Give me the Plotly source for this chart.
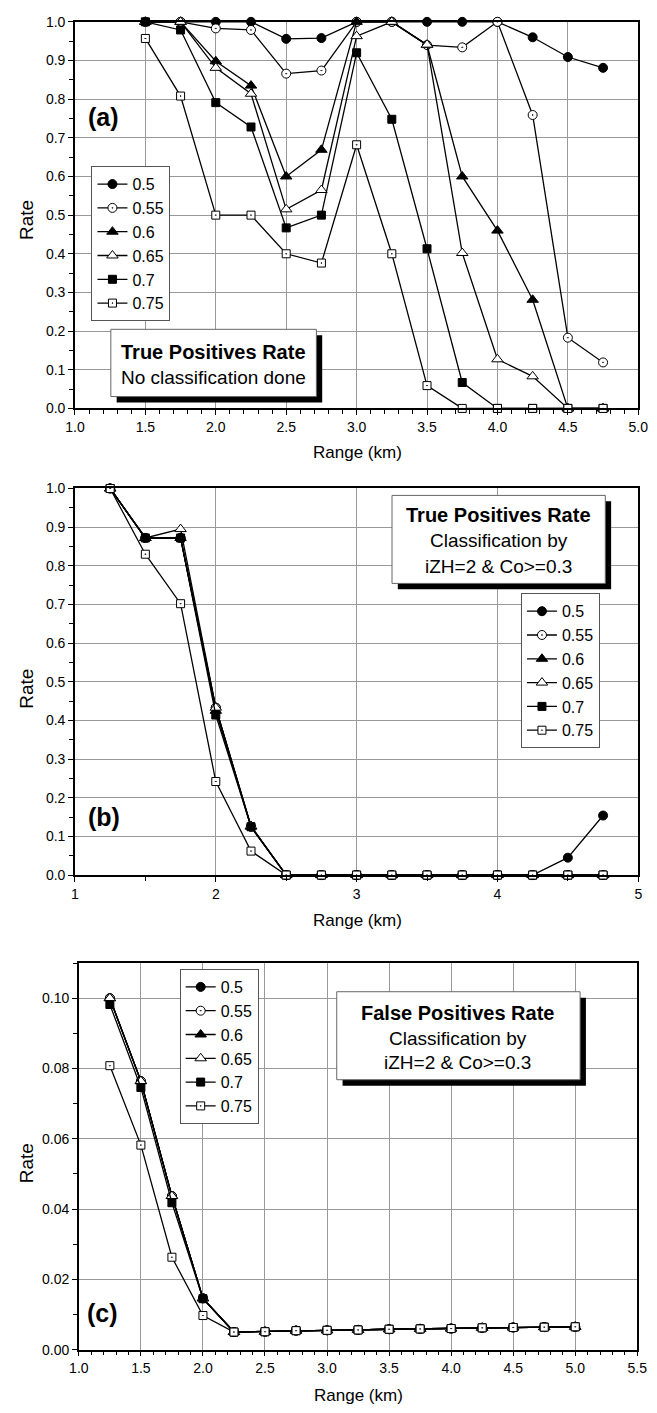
import plotly.graph_objects as go

# ---------------- data ----------------
thresholds = ["0.5", "0.55", "0.6", "0.65", "0.7", "0.75"]

# (a) True positives rate, no classification
range_a = [1.5, 1.75, 2.0, 2.25, 2.5, 2.75, 3.0, 3.25, 3.5, 3.75, 4.0, 4.25, 4.5, 4.75]
tpr_a_050 = [1.0, 1.0, 1.0, 1.0, 0.956, 0.958, 1.0, 1.0, 1.0, 1.0, 1.0, 0.960, 0.909, 0.881]
tpr_a_055 = [1.0, 1.0, 0.983, 0.979, 0.866, 0.874, 1.0, 1.0, 0.940, 0.934, 1.0, 0.759, 0.183, 0.119]
tpr_a_060 = [1.0, 1.0, 0.898, 0.835, 0.600, 0.669, 1.0, 1.0, 0.940, 0.600, 0.460, 0.281, 0.0, 0.0]
tpr_a_065 = [1.0, 1.0, 0.881, 0.814, 0.515, 0.565, 0.963, 1.0, 0.941, 0.402, 0.127, 0.083, 0.0, 0.0]
tpr_a_070 = [1.0, 0.979, 0.791, 0.728, 0.467, 0.500, 0.920, 0.748, 0.413, 0.067, 0.0, 0.0, 0.0, 0.0]
tpr_a_075 = [0.957, 0.808, 0.500, 0.500, 0.400, 0.376, 0.682, 0.400, 0.059, 0.0, 0.0, 0.0, 0.0, 0.0]

# (b) True positives rate, classification by iZH=2 & Co>=0.3
range_b = [1.25, 1.5, 1.75, 2.0, 2.25, 2.5, 2.75, 3.0, 3.25, 3.5, 3.75, 4.0, 4.25, 4.5, 4.75]
tpr_b_050 = [1.0, 0.872, 0.872, 0.433, 0.125, 0, 0, 0, 0, 0, 0, 0, 0, 0.045, 0.154]
tpr_b_055 = [1.0, 0.872, 0.872, 0.433, 0.125, 0, 0, 0, 0, 0, 0, 0, 0, 0, 0]
tpr_b_060 = [1.0, 0.872, 0.872, 0.425, 0.125, 0, 0, 0, 0, 0, 0, 0, 0, 0, 0]
tpr_b_065 = [1.0, 0.872, 0.895, 0.433, 0.127, 0, 0, 0, 0, 0, 0, 0, 0, 0, 0]
tpr_b_070 = [1.0, 0.872, 0.872, 0.414, 0.125, 0, 0, 0, 0, 0, 0, 0, 0, 0, 0]
tpr_b_075 = [1.0, 0.830, 0.702, 0.242, 0.062, 0, 0, 0, 0, 0, 0, 0, 0, 0, 0]

# (c) False positives rate, classification by iZH=2 & Co>=0.3
range_c = [1.25, 1.5, 1.75, 2.0, 2.25, 2.5, 2.75, 3.0, 3.25, 3.5, 3.75, 4.0, 4.25, 4.5, 4.75, 5.0]
fpr_c_050 = [0.1000, 0.0764, 0.0437, 0.0146, 0.0050, 0.0051, 0.0054, 0.0055, 0.0056, 0.0058, 0.0059, 0.0060, 0.0062, 0.0063, 0.0064, 0.0065]
fpr_c_055 = [0.1000, 0.0764, 0.0437, 0.0146, 0.0050, 0.0051, 0.0054, 0.0055, 0.0056, 0.0058, 0.0059, 0.0060, 0.0062, 0.0063, 0.0064, 0.0065]
fpr_c_060 = [0.1000, 0.0764, 0.0437, 0.0146, 0.0050, 0.0051, 0.0054, 0.0055, 0.0056, 0.0058, 0.0059, 0.0060, 0.0062, 0.0063, 0.0064, 0.0065]
fpr_c_065 = [0.1000, 0.0764, 0.0437, 0.0146, 0.0050, 0.0051, 0.0054, 0.0055, 0.0056, 0.0058, 0.0059, 0.0060, 0.0062, 0.0063, 0.0064, 0.0065]
fpr_c_070 = [0.0982, 0.0746, 0.0418, 0.0145, 0.0050, 0.0051, 0.0054, 0.0055, 0.0056, 0.0058, 0.0059, 0.0060, 0.0062, 0.0063, 0.0064, 0.0065]
fpr_c_075 = [0.0808, 0.0582, 0.0263, 0.0097, 0.0050, 0.0051, 0.0054, 0.0055, 0.0056, 0.0058, 0.0059, 0.0060, 0.0062, 0.0063, 0.0064, 0.0065]

# ---------------- styling ----------------
W, H = 657, 1413
FONT = "Liberation Sans, Arial, sans-serif"
GRID = "#999999"

# marker symbol / fill per threshold
MARKERS = [
    ("circle", "black", 9),
    ("circle-dot", "white", 9),
    ("triangle-up", "black", 10),
    ("triangle-up", "white", 10),
    ("square", "black", 8),
    ("square-dot", "white", 8),
]


def fx(px):
    return px / W


def fy(py):
    return 1 - py / H


fig = go.Figure()


def add_panel(xvals, series, xa, ya, legend):
    for name, yv, (sym, fill, size) in zip(thresholds, series, MARKERS):
        fig.add_trace(go.Scatter(
            x=xvals, y=yv, name=name, mode="lines+markers",
            xaxis=xa, yaxis=ya, legend=legend, cliponaxis=False,
            line=dict(color="black", width=1.3),
            marker=dict(symbol=sym, color=fill, size=size,
                        line=dict(color="black", width=1)),
        ))


add_panel(range_a, [tpr_a_050, tpr_a_055, tpr_a_060, tpr_a_065, tpr_a_070, tpr_a_075], "x", "y", "legend")
add_panel(range_b, [tpr_b_050, tpr_b_055, tpr_b_060, tpr_b_065, tpr_b_070, tpr_b_075], "x2", "y2", "legend2")
add_panel(range_c, [fpr_c_050, fpr_c_055, fpr_c_060, fpr_c_065, fpr_c_070, fpr_c_075], "x3", "y3", "legend3")

tickfont = dict(family=FONT, size=14, color="black")


def main_axis(domain, rng, dtick, minor, fmt, anchor):
    return dict(
        domain=domain, range=rng, anchor=anchor, tick0=rng[0], dtick=dtick,
        tickformat=fmt, showline=True, linecolor="black", linewidth=1.5, mirror=True,
        ticks="outside", ticklen=5, tickwidth=1, tickcolor="black",
        minor=dict(dtick=minor, tick0=rng[0], ticks="outside", ticklen=4,
                   tickwidth=1, tickcolor="black", showgrid=False),
        showgrid=True, gridcolor=GRID, gridwidth=1, zeroline=False,
        tickfont=tickfont, fixedrange=True,
    )


def inner_axis(rng, dtick, minor, overlay, side, anchor):
    return dict(
        range=rng, overlaying=overlay, side=side, anchor=anchor,
        tick0=rng[0], dtick=dtick, ticks="inside", ticklen=5, tickwidth=1,
        tickcolor="black", showticklabels=False, showgrid=False,
        showline=False, zeroline=False,
        minor=dict(dtick=minor, tick0=rng[0], ticks="inside", ticklen=4,
                   tickwidth=1, tickcolor="black", showgrid=False),
    )


xd_ab = [fx(67), fx(648)]
xd_c = [fx(71), fx(647)]
yd_a = [fy(405), fy(14)]
yd_b = [fy(877), fy(486)]
yd_c = [fy(1357), fy(966)]

legend_style = dict(
    font=dict(family=FONT, size=16, color="black"),
    bgcolor="white", bordercolor="#555555", borderwidth=1,
    xanchor="left", yanchor="top", itemwidth=30, tracegroupgap=0,
)

fig.update_layout(
    width=W, height=H, margin=dict(l=0, r=0, t=0, b=0),
    paper_bgcolor="white", plot_bgcolor="white",
    font=dict(family=FONT, color="black"),
    showlegend=True,
    xaxis=main_axis(xd_ab, [1, 5], 0.5, 0.1, ".1f", "y"),
    yaxis=main_axis(yd_a, [0, 1], 0.1, 0.05, ".1f", "x"),
    xaxis2=main_axis(xd_ab, [1, 5], 1, 0.5, "d", "y2"),
    yaxis2=main_axis(yd_b, [0, 1], 0.1, 0.05, ".1f", "x2"),
    xaxis3=main_axis(xd_c, [1, 5.5], 0.5, 0.1, ".1f", "y3"),
    yaxis3=main_axis(yd_c, [0, 0.11], 0.02, 0.01, ".2f", "x3"),
    xaxis4=inner_axis([1, 5], 0.5, 0.1, "x", "top", "y"),
    yaxis4=inner_axis([0, 1], 0.1, 0.05, "y", "right", "x"),
    xaxis5=inner_axis([1, 5], 1, 0.5, "x2", "top", "y2"),
    yaxis5=inner_axis([0, 1], 0.1, 0.05, "y2", "right", "x2"),
    xaxis6=inner_axis([1, 5.5], 0.5, 0.1, "x3", "top", "y3"),
    yaxis6=inner_axis([0, 0.11], 0.02, 0.01, "y3", "right", "x3"),
    legend=dict(legend_style, x=fx(84), y=fy(160)),
    legend2=dict(legend_style, x=fx(527), y=fy(592)),
    legend3=dict(legend_style, x=fx(175), y=fy(972)),
)

# caption boxes with a black drop shadow
boxes = [
    ((104, 325, 316, 393), 6),
    ((394, 493, 614, 582), 6),
    ((337, 995, 588, 1084), 6),
]
for (x0, y0, x1, y1), off in boxes:
    fig.add_shape(type="rect", xref="paper", yref="paper", layer="above",
                  x0=fx(x0 + off), x1=fx(x1 + off), y0=fy(y1 + off), y1=fy(y0 + off),
                  fillcolor="black", line=dict(width=0))
    fig.add_shape(type="rect", xref="paper", yref="paper", layer="above",
                  x0=fx(x0), x1=fx(x1), y0=fy(y1), y1=fy(y0),
                  fillcolor="white", line=dict(color="#666666", width=1))


def label(text, px, py, size, bold=False, angle=0):
    fig.add_annotation(
        text=f"<b>{text}</b>" if bold else text,
        xref="paper", yref="paper", x=fx(px), y=fy(py),
        xanchor="center", yanchor="middle", showarrow=False, textangle=angle,
        font=dict(family=FONT, size=size, color="black"),
    )


# caption texts
label("True Positives Rate", 210, 348, 20, bold=True)
label("No classification done", 210, 374, 19)
label("True Positives Rate", 504, 513, 20, bold=True)
label("Classification by", 504, 539, 19)
label("iZH=2 & Co>=0.3", 504, 565, 19)
label("False Positives Rate", 462, 1017, 20, bold=True)
label("Classification by", 462, 1042, 19)
label("iZH=2 & Co>=0.3", 462, 1067, 19)

# panel tags
label("(a)", 96, 110, 25, bold=True)
label("(b)", 97, 818, 25, bold=True)
label("(c)", 95, 1320, 25, bold=True)

# axis titles
for cx, cy in [(358, 450), (358, 923), (359, 1403)]:
    label("Range (km)", cx, cy, 17)
for cy in [214, 688, 1168]:
    label("Rate", 17, cy, 19, angle=-90)

fig.write_html("out.html")
